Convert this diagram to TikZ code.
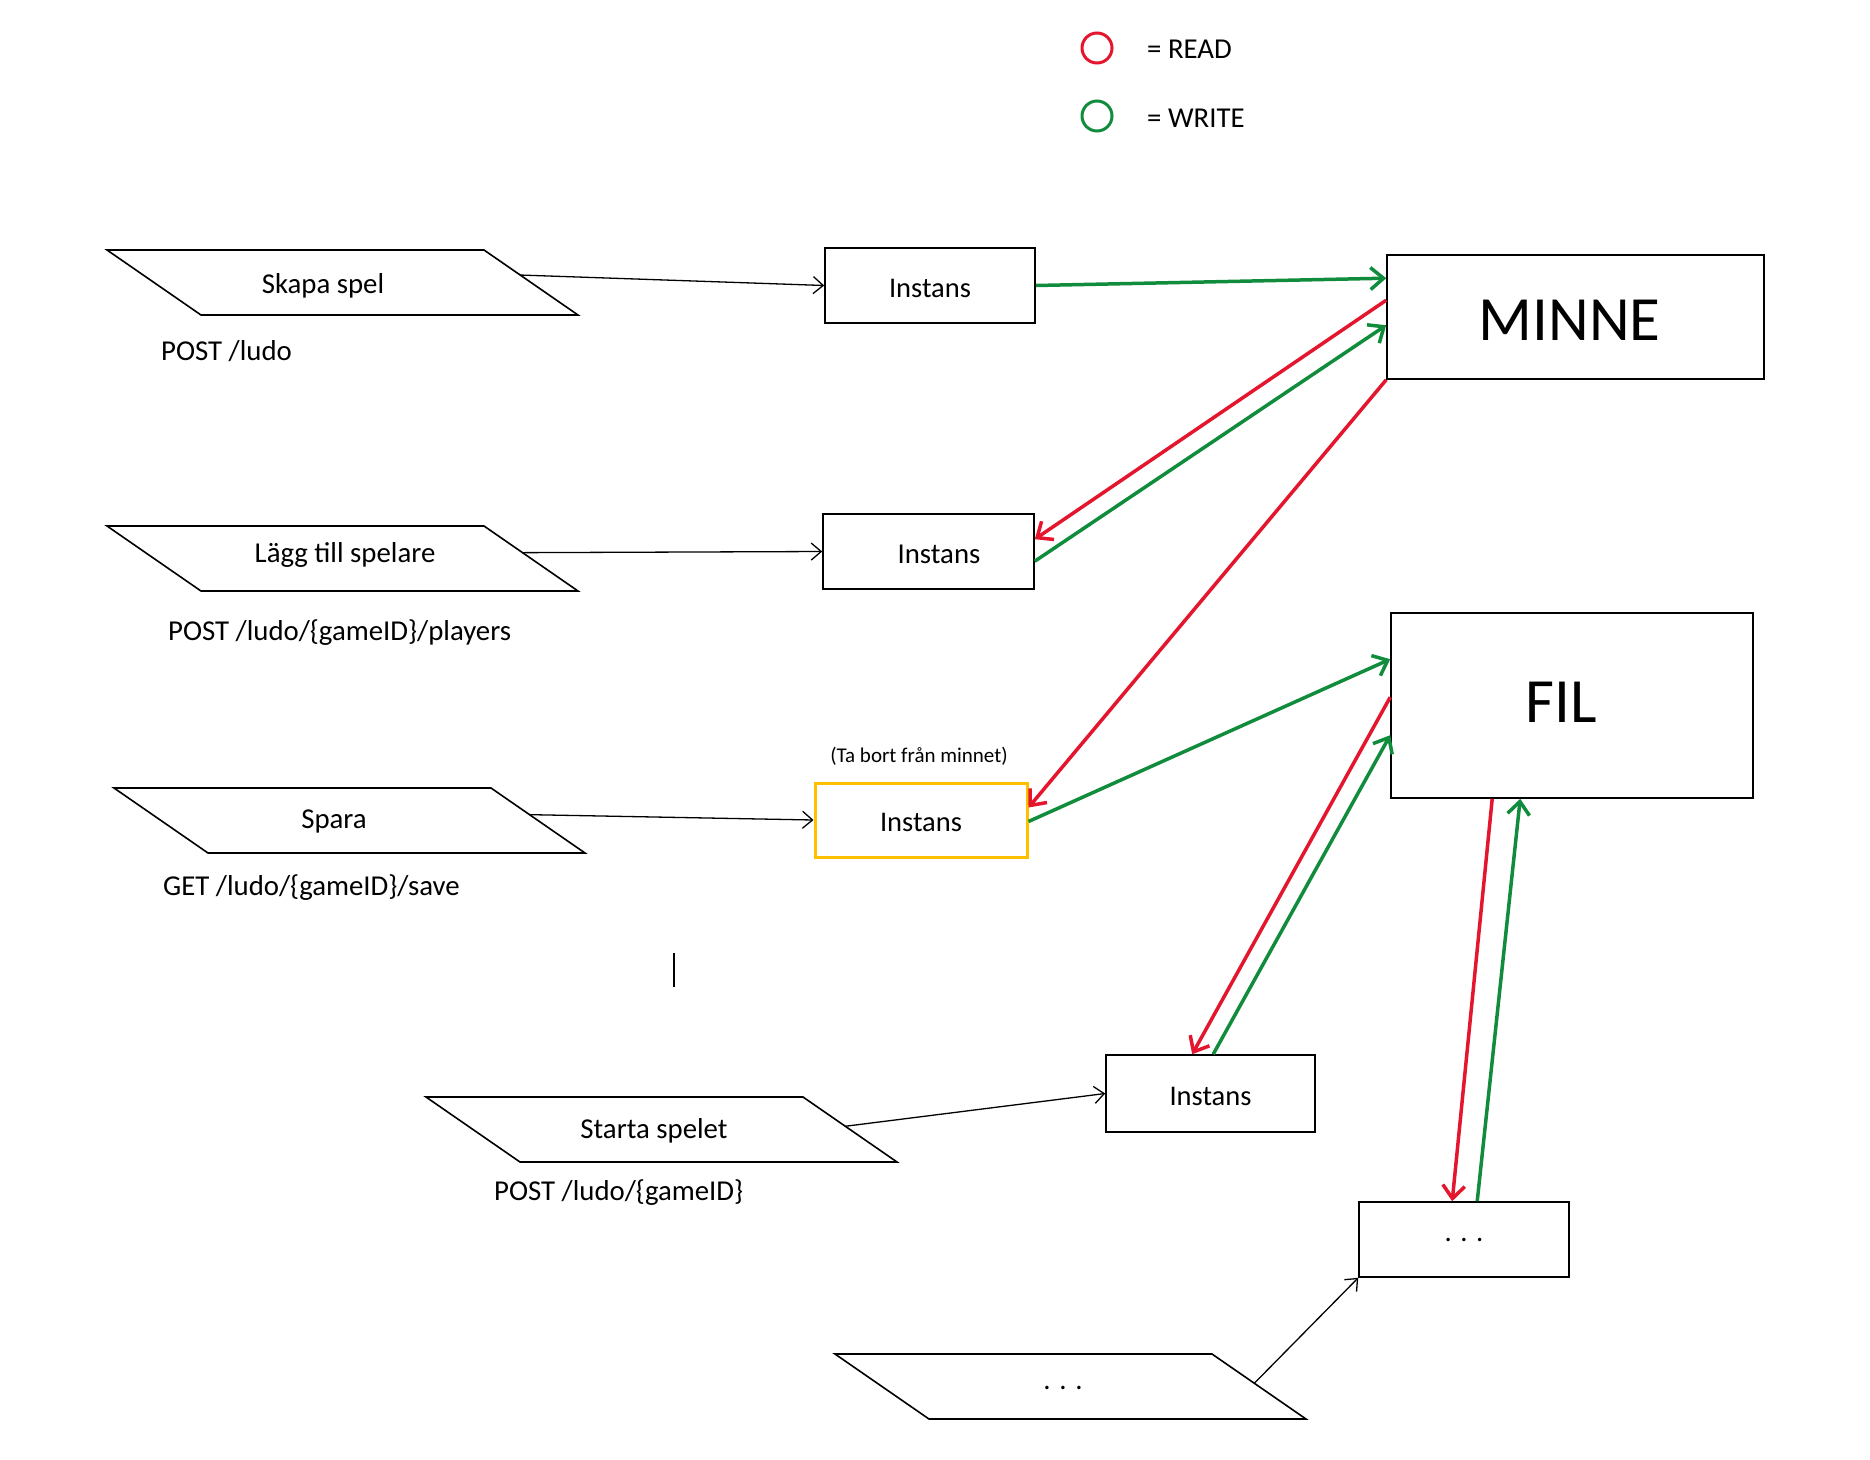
\documentclass[tikz,border=0pt]{standalone}
\usepackage{fontspec}
\setmainfont{Carlito}
\usetikzlibrary{arrows.meta,calc}
\definecolor{rd}{RGB}{228,22,46}
\definecolor{gr}{RGB}{16,140,60}
\definecolor{gold}{RGB}{255,192,0}
\tikzset{
 box/.style={draw=black, line width=1.6pt, minimum width=210pt, minimum height=75pt, inner sep=0pt, text height=23pt, text depth=0pt, font=\fontsize{28.5}{34}\selectfont},
 bigbox/.style={draw=black, line width=1.6pt, inner sep=0pt},
 bigtext/.style={inner sep=0pt, font=\fontsize{63}{74}\selectfont},
 lbl/.style={inner sep=0pt, yshift=-2.5pt, font=\fontsize{28.8}{34}\selectfont},
 smalllbl/.style={inner sep=0pt, yshift=-1pt, font=\fontsize{21}{25}\selectfont},
 paraline/.style={draw=black, line width=1.6pt, line join=miter},
 thinarrow/.style={black, line width=1.3pt, -{Straight Barb[length=10pt,width=17pt]}},
 readarrow/.style={rd, line width=3.5pt, -{Straight Barb[length=13pt,width=22pt]}},
 writearrow/.style={gr, line width=3.5pt, -{Straight Barb[length=13pt,width=22pt]}},
 legendc/.style={circle, line width=3pt, minimum size=30pt, inner sep=0pt},
}
\newcommand\parabox[3]{%
 \draw[paraline] (#2,#3) coordinate (#1tl) -- ++(377,0) coordinate (#1tr) -- ++(94,65) coordinate (#1br) -- ++(-377,0) coordinate (#1bl) -- cycle;}
\begin{document}
\begin{tikzpicture}[x=1pt,y=-1pt]
\useasboundingbox (0,0) rectangle (1870,1459);

% legend
\node[legendc, draw=rd] (readc) at (1097,48) {};
\node[legendc, draw=gr] (writec) at (1097,116) {};
\node[lbl, anchor=west, yshift=1pt] (readt) at (1147,48) {= READ};
\node[lbl, anchor=west, yshift=1pt] (writet) at (1147,117) {= WRITE};

% parallelograms
\parabox{pa}{107}{250}
\parabox{pb}{107}{526}
\parabox{pc}{114}{788}
\parabox{pd}{426}{1097}
\parabox{pe}{835}{1354}
\node[lbl] (pat) at (323,283) {Skapa spel};
\node[lbl] (pbt) at (345,552) {Lägg till spelare};
\node[lbl] (pct) at (334,819) {Spara};
\node[lbl] (pdt) at (654,1128) {Starta spelet};
\node[lbl] (pet) at (1063,1385) {. . .};
\node[lbl, anchor=west] (pal) at (161,349) {POST /ludo};
\node[lbl, anchor=west] (pbl) at (168,630) {POST /ludo/\{gameID\}/players};
\node[lbl, anchor=west] (pcl) at (163,885) {GET /ludo/\{gameID\}/save};
\node[lbl, anchor=west] (pdl) at (494,1190) {POST /ludo/\{gameID\}};
\coordinate (pao) at ($(patr)!0.385!(pabr)$);
\coordinate (pbo) at ($(pbtr)!0.41!(pbbr)$);
\coordinate (pco) at ($(pctr)!0.41!(pcbr)$);
\coordinate (pdo) at ($(pdtr)!0.45!(pdbr)$);
\coordinate (peo) at ($(petr)!0.45!(pebr)$);

% boxes
\node[box] (i1) at (930,285.5) {Instans};
\node[box, minimum width=211pt] (i2) at (928.5,551.5) {};
\node[lbl] (i2t) at (939,552) {Instans};
\node[box, draw=gold, line width=3pt, minimum width=212pt, minimum height=74pt] (i3) at (921,820) {Instans};
\node[smalllbl] (i3n) at (919,755) {(Ta bort från minnet)};
\node[box, minimum width=209pt, minimum height=77pt] (i4) at (1210.5,1093.5) {Instans};
\node[box, text height=3pt] (dd) at (1464,1239.5) {. . .};
\node[bigbox, minimum width=377pt, minimum height=124pt] (minne) at (1575.5,317) {};
\node[bigtext] (minnet) at (1569.5,320.5) {MINNE};
\node[bigbox, minimum width=362pt, minimum height=185pt] (fil) at (1572,705.5) {};
\node[bigtext] (filt) at (1561,702) {FIL};

% cursor mark
\draw[line width=1.3pt] (674,953) coordinate (cura) -- (674,987) coordinate (curb);

% black arrows
\draw[thinarrow] (pao) -- (i1.west);
\draw[thinarrow] (pbo) -- (i2.west);
\draw[thinarrow] (pco) -- (i3.west);
\draw[thinarrow] (pdo) -- (i4.west);
\draw[thinarrow] (peo) -- (dd.south west);

% read / write arrows
\draw[writearrow] (i1.east) -- ([yshift=-24pt]minne.north west);
\draw[readarrow] ([yshift=-46pt]minne.north west) -- ([yshift=-26pt]i2.north east);
\draw[writearrow] ([yshift=-48pt]i2.north east) -- ([yshift=-71pt]minne.north west);
\draw[readarrow] (minne.south west) -- ([yshift=-26pt]i3.north east);
\draw[writearrow] ([yshift=-40pt]i3.north east) -- ([yshift=-47pt]fil.north west);
\draw[readarrow] ([yshift=-85pt]fil.north west) -- ([xshift=87pt]i4.north west);
\draw[writearrow] ([xshift=108pt]i4.north west) -- ([yshift=-123pt]fil.north west);
\draw[readarrow] ([xshift=102pt]fil.south west) -- ([xshift=94pt]dd.north west);
\draw[writearrow] ([xshift=119pt]dd.north west) -- ([xshift=130pt]fil.south west);
\end{tikzpicture}
\end{document}
